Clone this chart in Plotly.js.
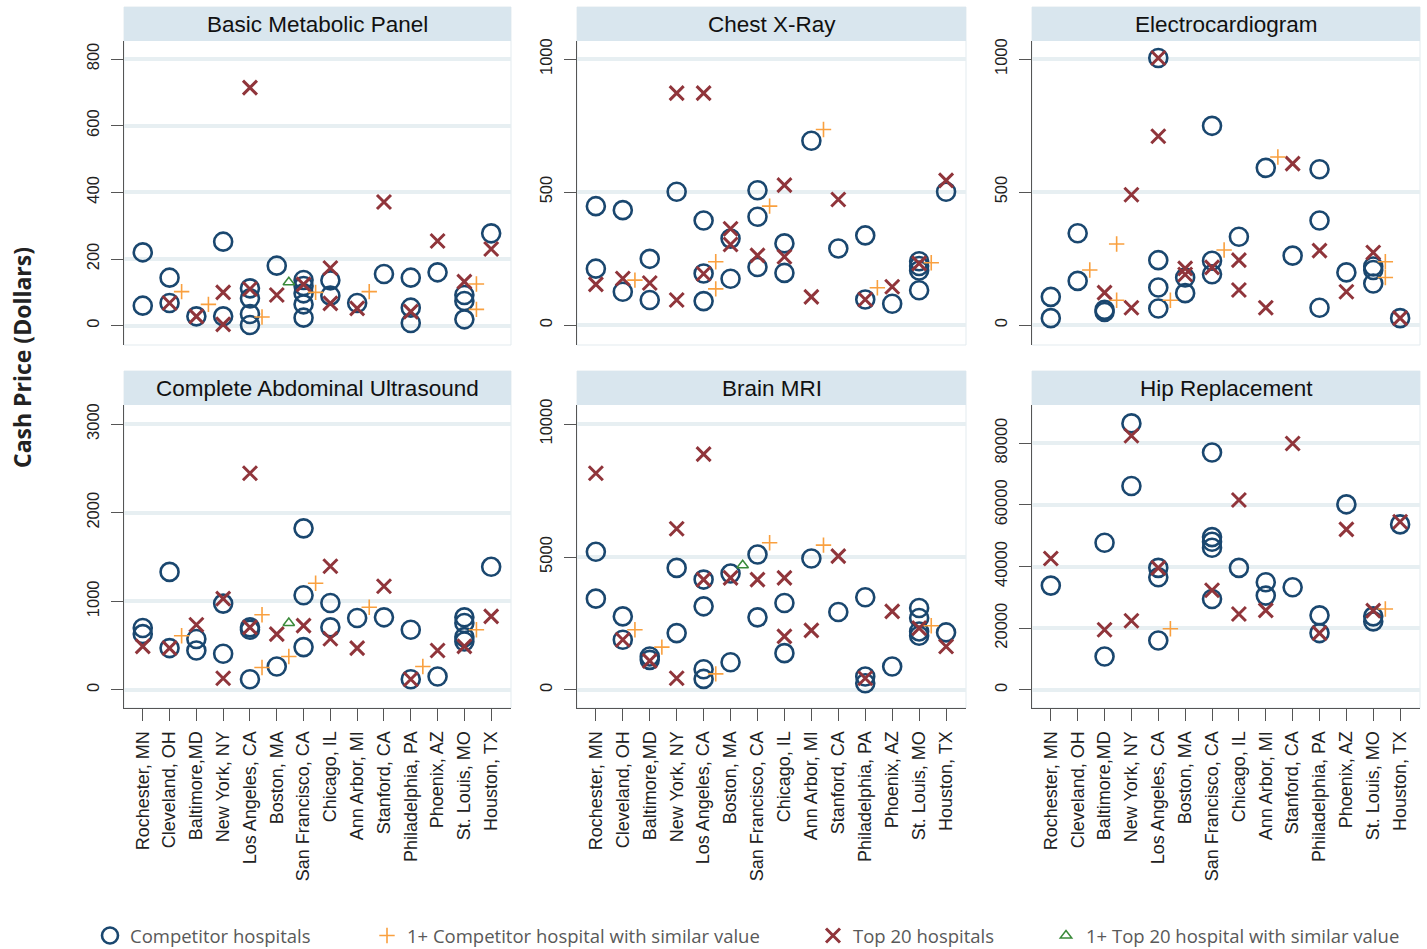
<!DOCTYPE html>
<html>
<head>
<meta charset="utf-8">
<script src="https://cdn.plot.ly/plotly-3.0.1.min.js"></script>
<style>html,body{margin:0;padding:0;background:#fff;}#chart{width:1427px;height:949px;}</style>
</head>
<body>
<div id="chart"></div>
<script>
// ---------- DATA ----------
const cities = ["Rochester, MN","Cleveland, OH","Baltimore,MD","New York, NY","Los Angeles, CA","Boston, MA","San Francisco, CA","Chicago, IL","Ann Arbor, MI","Stanford, CA","Philadelphia, PA","Phoenix, AZ","St. Louis, MO","Houston, TX"];
const panelTitles = ["Basic Metabolic Panel","Chest X-Ray","Electrocardiogram","Complete Abdominal Ultrasound","Brain MRI","Hip Replacement"];

// Each array: one list of prices per city (same order as cities)
const bmpComp    = [[220,60],[144,68],[28],[252,28],[112,82,35,2],[180],[137,119,97,64,24],[136,90],[68],[155],[144,54,8],[160],[92,74,19],[277]];
const bmpTop     = [[],[68],[28],[100,4],[714,110],[92],[124],[173,67],[52],[371],[42],[254],[132],[230]];
const bmpCompSim = [[],[102],[64],[],[26],[],[100],[],[102],[],[],[],[125,49],[]];
const bmpTopSim  = [[],[],[],[],[],[130],[],[],[],[],[],[],[],[]];

const xrComp    = [[447,212],[432,125],[249,94],[501],[393,194,90],[325,174],[507,407,218],[307,196],[693],[288],[337,96],[80],[240,222,205,131],[501]];
const xrTop     = [[153],[175],[158],[872,94],[872,193],[362,303],[262],[526,257],[106],[472],[96],[144],[232],[544]];
const xrCompSim = [[],[169],[],[],[238,136],[],[447],[],[735],[],[140],[],[234],[]];
const xrTopSim  = [[],[],[],[],[],[],[],[],[],[],[],[],[],[]];

const ecgComp    = [[106,26],[345,166],[57,49],[],[1004,244,141,62],[179,120],[749,242,191],[332],[591],[261],[586,393,65],[198],[220,207,156],[26]];
const ecgTop     = [[],[],[122],[490,65],[1004,710],[213,190],[217],[244,132],[65],[607],[280],[125],[273],[26]];
const ecgCompSim = [[],[207],[305,93],[],[93],[],[282],[],[632],[],[],[],[238,179],[]];
const ecgTopSim  = [[],[],[],[],[],[],[],[],[],[],[],[],[],[]];

const usComp    = [[698,630],[1332,472],[574,445],[974,408],[706,679,121],[264],[1823,1068,483],[981,706],[811],[819],[679,121],[151],[819,755,596,547],[1389]];
const usTop     = [[491],[472],[736],[1030,132],[2445,706],[630],[725],[1396,577],[472],[1170],[121],[445],[491],[830]];
const usCompSim = [[],[611],[],[],[849,253],[377],[1204],[],[932],[],[264],[],[679],[]];
const usTopSim  = [[],[],[],[],[],[755],[],[],[],[],[],[],[],[]];

const mriComp    = [[5195,3434],[2767,1887],[1258,1132],[4591,2138],[4151,3145,780,415],[4377,1044],[5094,2730],[3270,1384],[4944],[2931],[3484,503,252],[881],[3082,2704,2201,2038],[2164]];
const mriTop     = [[8151],[1887],[1094],[6063,440],[8868,4151],[4214],[4151],[4214,2013],[2239],[5032],[440],[2956],[2327],[1635]];
const mriCompSim = [[],[2264],[1610],[],[604],[],[5535],[],[5447],[],[],[],[2415],[]];
const mriTopSim  = [[],[],[],[],[],[4692],[],[],[],[],[],[],[],[]];

const hipComp    = [[33820],[],[47700,10840],[86400,66120],[39570,36530,16040],[],[76960,49540,48020,46070,29480],[39570],[34900,30570],[33280],[24170,18430],[60160],[23850,22220],[53660]];
const hipTop     = [[42600],[],[19510],[82380,22440],[39570],[],[32300],[61570,24610],[25800],[79890],[18430],[52030],[25690],[54530]];
const hipCompSim = [[],[],[],[],[19840],[],[],[],[],[],[],[],[26230],[]];
const hipTopSim  = [[],[],[],[],[],[],[],[],[],[],[],[],[],[]];

const yTicks = [[0,200,400,600,800],[0,500,1000],[0,500,1000],[0,1000,2000,3000],[0,5000,10000],[0,20000,40000,60000,80000]];
const yRanges = [[-58,854],[-75,1068],[-75,1068],[-204,3215],[-679,10717],[-5854,92357]];

// ---------- BUILD ----------
const panels = [
  [bmpComp,bmpTop,bmpCompSim,bmpTopSim],
  [xrComp,xrTop,xrCompSim,xrTopSim],
  [ecgComp,ecgTop,ecgCompSim,ecgTopSim],
  [usComp,usTop,usCompSim,usTopSim],
  [mriComp,mriTop,mriCompSim,mriTopSim],
  [hipComp,hipTop,hipCompSim,hipTopSim]
];

const W = 1427, H = 949;
const colPx = [[124,511],[577,966],[1032,1420]];
const rowPx = [[41,345],[405,708]];
const stripPx = [[7,41],[371,405]];
const px = v => v / W;
const py = v => 1 - v / H;

const NAVY = '#1a476f', MAROON = '#90353b', ORANGE = '#f9a03f', GREEN = '#3a8a3a';
const styles = [
  {name:'Competitor hospitals', off:0, marker:{symbol:'circle-open', size:18, color:NAVY, line:{width:2.6, color:NAVY}}, legend:'legend'},
  {name:'Top 20 hospitals', off:0, marker:{symbol:'x-thin-open', size:14, color:MAROON, line:{width:3, color:MAROON}}, legend:'legend3'},
  {name:'1+ Competitor hospital with similar value', off:0.45, marker:{symbol:'cross-thin-open', size:11, color:ORANGE, line:{width:1.6, color:ORANGE}}, legend:'legend2'},
  {name:'1+ Top 20 hospital with similar value', off:0.45, marker:{symbol:'triangle-up-open', size:10, color:GREEN, line:{width:1.5, color:GREEN}}, legend:'legend4'}
];

function flatten(series, off) {
  const xs = [], ys = [];
  series.forEach((vals, i) => vals.forEach(v => { xs.push(i + 1 + off); ys.push(v); }));
  return {xs, ys};
}

const traces = [];
const layout = {
  width: W, height: H,
  margin: {l:0, r:0, t:0, b:0, autoexpand:false},
  paper_bgcolor: '#ffffff', plot_bgcolor: '#ffffff',
  font: {family: 'Liberation Sans, Arial, sans-serif', color: '#222'},
  shapes: [], annotations: []
};

panels.forEach((ser, p) => {
  const r = Math.floor(p / 3), c = p % 3;
  const suffix = p === 0 ? '' : String(p + 1);
  ser.forEach((s, k) => {
    const st = styles[k];
    const f = flatten(s, st.off);
    traces.push({
      type: 'scatter', mode: 'markers', x: f.xs, y: f.ys,
      xaxis: 'x' + suffix, yaxis: 'y' + suffix,
      name: st.name, marker: st.marker,
      showlegend: p === 0, legend: st.legend, hoverinfo: 'x+y',
      cliponaxis: false
    });
  });
  layout['xaxis' + suffix] = {
    domain: [px(colPx[c][0]), px(colPx[c][1])],
    anchor: 'y' + suffix,
    range: [0.3, 14.74],
    tickvals: cities.map((_, i) => i + 1),
    ticktext: cities,
    showticklabels: r === 1,
    ticks: r === 1 ? 'outside' : '',
    ticklen: 12, tickcolor: '#555', tickwidth: 1,
    ticklabelstandoff: 3,
    tickangle: -90,
    tickfont: {family: 'Liberation Sans, Arial, sans-serif', size: 18, color: '#222'},
    showline: r === 1, linecolor: '#555', linewidth: 1,
    showgrid: false, zeroline: false, fixedrange: true
  };
  layout['yaxis' + suffix] = {
    domain: [py(rowPx[r][1]), py(rowPx[r][0])],
    anchor: 'x' + suffix,
    range: yRanges[p],
    tickvals: yTicks[p],
    tickformat: 'd',
    tickangle: -90,
    ticks: 'outside', ticklen: 12, tickcolor: '#555', tickwidth: 1,
    ticklabelstandoff: 5,
    tickfont: {family: 'Liberation Sans, Arial, sans-serif', size: 16.5, color: '#222'},
    showline: true, linecolor: '#555', linewidth: 1,
    showgrid: true, gridcolor: '#e7eff2', gridwidth: 4,
    zeroline: false, fixedrange: true
  };
  // panel frame
  layout.shapes.push({type:'rect', xref:'paper', yref:'paper', layer:'below',
    x0: px(colPx[c][0]), x1: px(colPx[c][1]), y0: py(rowPx[r][1]), y1: py(stripPx[r][0]),
    line:{color:'#e3ebef', width:1}, fillcolor:'rgba(0,0,0,0)'});
  // title strip
  layout.shapes.push({type:'rect', xref:'paper', yref:'paper', layer:'above',
    x0: px(colPx[c][0]), x1: px(colPx[c][1]), y0: py(stripPx[r][1]), y1: py(stripPx[r][0]),
    line:{width:0}, fillcolor:'#d9e6ee'});
  layout.annotations.push({xref:'paper', yref:'paper', showarrow:false,
    x: px((colPx[c][0] + colPx[c][1]) / 2), y: py((stripPx[r][0] + stripPx[r][1]) / 2),
    xanchor:'center', yanchor:'middle', text: panelTitles[p],
    font:{family:'Liberation Sans, Arial, sans-serif', size:22.5, color:'#111'}});
});

layout.annotations.push({xref:'paper', yref:'paper', showarrow:false,
  x: px(22), y: py(358), xanchor:'center', yanchor:'middle', textangle:-90,
  text: 'Cash Price (Dollars)',
  font:{family:'Open Sans, sans-serif', size:23, color:'#222', weight:'bold'}});

const legendFont = {family:'Open Sans, sans-serif', size:18.5, color:'#595959'};
const legendXs = {legend:117, legend2:394, legend3:840, legend4:1073};
Object.keys(legendXs).forEach(k => {
  layout[k] = {x: px(legendXs[k] - 27), y: py(936), xanchor:'left', yanchor:'middle',
    orientation:'h', font: legendFont, bgcolor:'rgba(0,0,0,0)', borderwidth:0, itemclick:false, itemdoubleclick:false};
});

Plotly.newPlot('chart', traces, layout, {displayModeBar:false, staticPlot:true});
</script>
</body>
</html>
